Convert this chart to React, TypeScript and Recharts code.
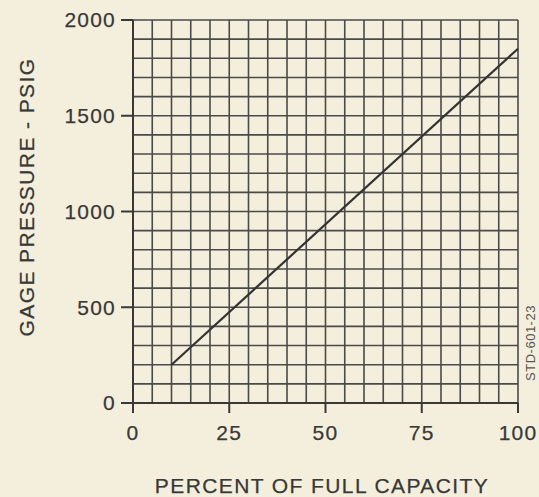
import { LineChart, Line, XAxis, YAxis, ReferenceLine } from "recharts";

// tick labels on the axes
const pctTicks = [0, 25, 50, 75, 100];
const psiTicks = [0, 500, 1000, 1500, 2000];

// minor grid positions (chart paper)
const gridPct = [5, 10, 15, 20, 25, 30, 35, 40, 45, 50, 55, 60, 65, 70, 75, 80, 85, 90, 95, 100];
const gridPsi = [100, 200, 300, 400, 500, 600, 700, 800, 900, 1000, 1100, 1200, 1300, 1400, 1500, 1600, 1700, 1800, 1900, 2000];

// the straight line
const capacity = [10, 100];
const pressure = [200, 1850];

const data = capacity.map((x, i) => ({ x, y: pressure[i] }));

const ink = "#383838";
const paper = "#f4efdc";
const gridInk = "#4a4a4a";
const font = "'Liberation Sans', Arial, sans-serif";
const tickStyle = { fontSize: 21, fill: ink, fontFamily: font, letterSpacing: 1.2, stroke: ink, strokeWidth: 0.25 };

export default function App() {
  return (
    <div style={{ position: "absolute", left: 0, top: 0, width: 539, height: 497, background: paper, fontFamily: font }}>
      <LineChart width={539} height={497} data={data} margin={{ top: 20, right: 21, left: 0, bottom: 0 }}>
        <XAxis
          type="number"
          dataKey="x"
          domain={[0, 100]}
          ticks={pctTicks}
          interval={0}
          height={94}
          tickSize={10}
          tickMargin={12}
          stroke={ink}
          strokeWidth={2}
          tick={tickStyle}
        />
        <YAxis
          type="number"
          domain={[0, 2000]}
          ticks={psiTicks}
          interval={0}
          width={133}
          tickSize={12}
          tickMargin={5}
          stroke={ink}
          strokeWidth={2}
          tick={tickStyle}
        />
        {gridPct.map((v) => (
          <ReferenceLine key={"x" + v} x={v} stroke={gridInk} strokeWidth={1.6} />
        ))}
        {gridPsi.map((v) => (
          <ReferenceLine key={"y" + v} y={v} stroke={gridInk} strokeWidth={1.6} />
        ))}
        <Line type="linear" dataKey="y" stroke="#333" strokeWidth={2.2} dot={false} isAnimationActive={false} />
      </LineChart>
      <div
        style={{
          position: "absolute",
          left: 322,
          top: 486,
          transform: "translate(-50%, -50%)",
          whiteSpace: "nowrap",
          fontSize: 21,
          letterSpacing: 1.4,
          color: ink,
          WebkitTextStroke: "0.25px " + ink,
        }}
      >
        PERCENT OF FULL CAPACITY
      </div>
      <div
        style={{
          position: "absolute",
          left: 27,
          top: 197,
          transform: "translate(-50%, -50%) rotate(-90deg)",
          whiteSpace: "nowrap",
          fontSize: 21,
          letterSpacing: 1.4,
          color: ink,
          WebkitTextStroke: "0.25px " + ink,
        }}
      >
        GAGE PRESSURE - PSIG
      </div>
      <div
        style={{
          position: "absolute",
          left: 530,
          top: 343,
          transform: "translate(-50%, -50%) rotate(-90deg)",
          whiteSpace: "nowrap",
          fontSize: 13,
          letterSpacing: 0.5,
          color: "#555",
        }}
      >
        STD-601-23
      </div>
    </div>
  );
}
